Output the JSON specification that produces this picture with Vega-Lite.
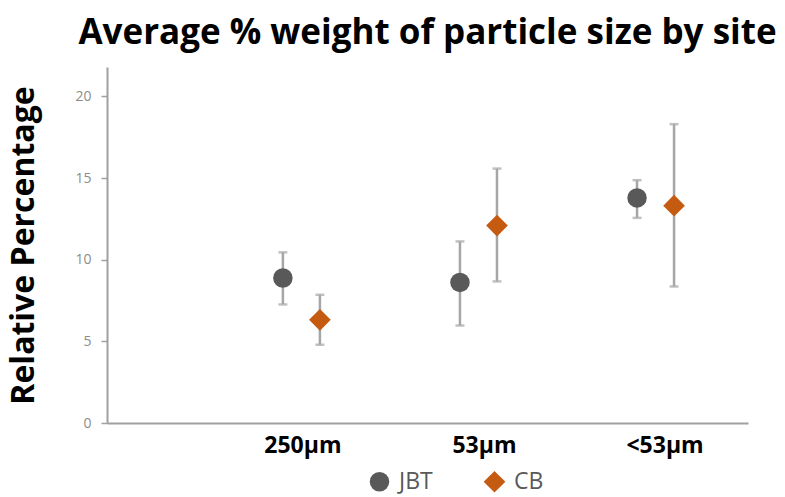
{
  "$schema": "https://vega.github.io/schema/vega-lite/v6.json",
  "width": 641,
  "height": 356,
  "autosize": {"type": "none"},
  "padding": {"left": 107, "top": 67, "right": 37, "bottom": 74},
  "background": "white",
  "config": {
    "view": {"stroke": null},
    "font": "Open Sans"
  },
  "title": {
    "text": "Average % weight of particle size by site",
    "font": "Open Sans",
    "fontSize": 35,
    "fontWeight": "bold",
    "color": "#000000",
    "anchor": "middle",
    "frame": "group",
    "baseline": "alphabetic",
    "offset": -12
  },
  "data": {
    "values": [
      {"size": "250µm", "site": "JBT", "mean": 8.88, "lo": 7.26, "hi": 10.45},
      {"size": "250µm", "site": "CB", "mean": 6.32, "lo": 4.79, "hi": 7.85},
      {"size": "53µm", "site": "JBT", "mean": 8.61, "lo": 5.97, "hi": 11.12},
      {"size": "53µm", "site": "CB", "mean": 12.09, "lo": 8.67, "hi": 15.58},
      {"size": "<53µm", "site": "JBT", "mean": 13.78, "lo": 12.56, "hi": 14.87},
      {"size": "<53µm", "site": "CB", "mean": 13.31, "lo": 8.36, "hi": 18.3}
    ]
  },
  "encoding": {
    "x": {
      "field": "size",
      "type": "nominal",
      "scale": {"type": "band", "domain": ["250µm", "53µm", "<53µm"], "paddingInner": 0.5, "paddingOuter": 0.56, "align": 0.757},
      "axis": {
        "title": null,
        "ticks": false,
        "tickSize": 0,
        "domainColor": "#A0A0A0",
        "domainWidth": 2,
        "labelFont": "Open Sans",
        "labelFontSize": 23,
        "labelFontWeight": "bold",
        "labelColor": "#000000",
        "labelBaseline": "alphabetic",
        "labelPadding": 29,
        "labelAngle": 0,
        "labelOffset": {"condition": [{"test": "datum.value == '<53µm'", "value": 9.5}, {"test": "datum.value == '53µm'", "value": 6}], "value": 1.5}
      }
    },
    "xOffset": {"field": "site", "type": "nominal", "scale": {"domain": ["JBT", "CB"], "paddingInner": 0, "paddingOuter": 0.196}}
  },
  "layer": [
    {
      "mark": {"type": "rule", "color": "#A6A6A6", "strokeWidth": 2.5},
      "encoding": {
        "y": {
          "field": "lo",
          "type": "quantitative",
          "title": "Relative Percentage",
          "scale": {"domain": [0, 21.8], "nice": false},
          "axis": {
            "titleFont": "Open Sans",
            "titleFontSize": 32,
            "titleFontWeight": "bold",
            "titleColor": "#000000",
            "titleAngle": -90,
            "titleX": -74,
            "titleY": 178,
            "titleAlign": "center",
            "titleBaseline": "alphabetic",
            "values": [0, 5, 10, 15, 20],
            "grid": false,
            "domainColor": "#A0A0A0",
            "domainWidth": 2,
            "tickColor": "#A0A0A0",
            "tickWidth": 1.5,
            "tickSize": 6,
            "labelColor": "#8C8C8C",
            "labelFontSize": 14,
            "labelPadding": 10,
            "labelFont": "Open Sans"
          }
        },
        "y2": {"field": "hi"}
      }
    },
    {
      "mark": {"type": "tick", "color": "#A6A6A6", "thickness": 2.5, "size": 9},
      "encoding": {"y": {"field": "hi", "type": "quantitative", "title": "Relative Percentage"}}
    },
    {
      "mark": {"type": "tick", "color": "#A6A6A6", "thickness": 2.5, "size": 9},
      "encoding": {"y": {"field": "lo", "type": "quantitative", "title": "Relative Percentage"}}
    },
    {
      "mark": {"type": "point", "filled": true, "opacity": 1},
      "encoding": {
        "y": {"field": "mean", "type": "quantitative", "title": "Relative Percentage"},
        "color": {
          "field": "site",
          "type": "nominal",
          "title": null,
          "scale": {"domain": ["JBT", "CB"], "range": ["#595959", "#C55A11"]},
          "legend": {
            "orient": "none",
            "legendX": 261,
            "legendY": 403,
            "direction": "horizontal",
            "title": null,
            "labelFont": "Open Sans",
            "labelFontSize": 23,
            "labelColor": "#595959",
            "symbolSize": 330,
            "symbolStrokeWidth": 0,
            "labelOffset": 8,
            "columnPadding": 50,
            "padding": 0
          }
        },
        "shape": {
          "field": "site",
          "type": "nominal",
          "title": null,
          "scale": {"domain": ["JBT", "CB"], "range": ["circle", "diamond"]},
          "legend": {
            "orient": "none",
            "legendX": 261,
            "legendY": 403,
            "direction": "horizontal",
            "title": null,
            "labelFont": "Open Sans",
            "labelFontSize": 23,
            "labelColor": "#595959",
            "symbolSize": 330,
            "symbolStrokeWidth": 0,
            "labelOffset": 8,
            "columnPadding": 50,
            "padding": 0
          }
        },
        "size": {"field": "site", "type": "nominal", "legend": null, "scale": {"domain": ["JBT", "CB"], "range": [380, 470]}}
      }
    }
  ]
}
